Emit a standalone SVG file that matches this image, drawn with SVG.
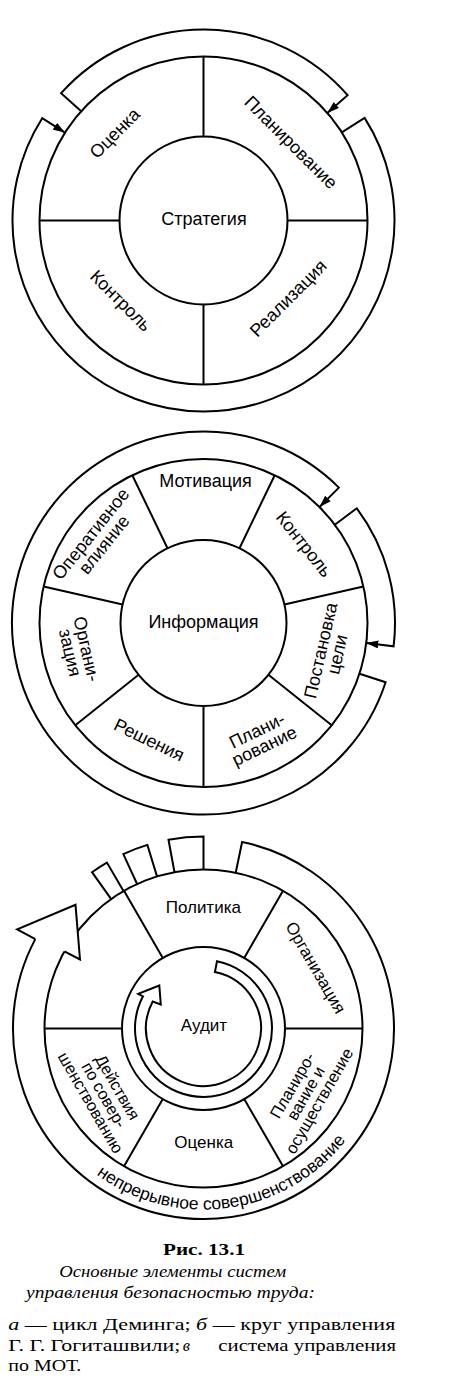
<svg xmlns="http://www.w3.org/2000/svg" width="454" height="1393" viewBox="0 0 454 1393">
<style>
.ln{fill:none;stroke:#000;stroke-width:2}
.wf{fill:#fff;stroke:#000;stroke-width:2;stroke-linejoin:miter}
.t{font-family:"Liberation Sans",Arial,sans-serif;font-size:18px;text-anchor:middle;fill:#000}
.s17{font-size:17px}
.s16{font-size:16.5px}
.cap{font-family:"Liberation Serif","Times New Roman",serif;font-size:16.5px;fill:#000}
.it{font-style:italic}
</style>
<defs>
<marker id="ah" markerUnits="userSpaceOnUse" markerWidth="12" markerHeight="8" refX="12" refY="4" orient="auto"><path d="M0,0 L12,4 L0,8 z" fill="#000"/></marker>
<path id="arcText" d="M46.7,1119 A181,181 0 0 0 360.3,1119" fill="none"/>
</defs>
<rect width="454" height="1393" fill="#fff"/>

<!-- ===== Diagram a ===== -->
<g id="diagram-a">
<g id="a-ring"><circle class="ln" cx="203.5" cy="220.5" r="164"/>
<path class="ln" d="M203.5,136.5 V56.5 M203.5,304.5 V384.5 M119.5,220.5 H39.5 M287.5,220.5 H367.5"/></g>
<g id="a-strategy"><circle class="ln" cx="203.5" cy="220.5" r="84"/><text class="t" x="204" y="225">Стратегия</text></g>
<g id="a-otsenka"><text class="t" transform="translate(114.8,133.3) rotate(-45)" y="6">Оценка</text></g>
<g id="a-planirovanie"><text class="t" transform="translate(290.8,142.5) rotate(45)" y="6">Планирование</text></g>
<g id="a-kontrol"><text class="t" transform="translate(120.8,300.8) rotate(45)" y="6">Контроль</text></g>
<g id="a-realizatsiya"><text class="t" transform="translate(288.3,298.3) rotate(-45)" y="6">Реализация</text></g>
<g id="a-connectors">
<path class="ln" d="M81.2,111.2 L61.1,93.2 A191,191 0 0 1 347.6,95.2 L327.3,112.9" marker-end="url(#ah)"/>
<path class="ln" d="M341.8,132.4 L364.6,117.9 A191,191 0 1 1 42.2,118.2 L65,132.6" marker-end="url(#ah)"/>
</g>
</g>

<!-- ===== Diagram b ===== -->
<g id="diagram-b">
<g id="b-ring"><circle class="ln" cx="203.5" cy="623" r="164"/>
<path class="ln" d="M203.5,706 V787 M138.6,674.8 L75.3,725.3 M122.6,604.5 L43.6,586.5 M167.5,548.2 L132.3,475.2 M239.5,548.2 L274.7,475.2 M284.4,604.5 L363.4,586.5 M268.4,674.8 L331.7,725.3"/></g>
<g id="b-informatsiya"><circle class="ln" cx="203.5" cy="623" r="83"/><text class="t" x="203.5" y="628">Информация</text></g>
<g id="b-motivatsiya"><text class="t" x="205.5" y="487.3">Мотивация</text></g>
<g id="b-kontrol"><text class="t" transform="translate(304,544.2) rotate(51.4)" y="6">Контроль</text></g>
<g id="b-postanovka"><text class="t" transform="translate(329,652.5) rotate(-77.1)"><tspan x="0" y="-2.5">Постановка</tspan><tspan x="0" y="14.5">цели</tspan></text></g>
<g id="b-planirovanie"><text class="t" transform="translate(260.8,738.3) rotate(-25.7)"><tspan x="0" y="-2.5">Плани-</tspan><tspan x="0" y="14.5">рование</tspan></text></g>
<g id="b-resheniya"><text class="t" transform="translate(149.2,740) rotate(25.7)" y="6">Решения</text></g>
<g id="b-organizatsiya"><text class="t" transform="translate(78.3,650.8) rotate(77.1)"><tspan x="0" y="-2.5">Органи-</tspan><tspan x="0" y="14.5">зация</tspan></text></g>
<g id="b-operativnoe"><text class="t" transform="translate(97.5,539.2) rotate(-51.4)"><tspan x="0" y="-2.5">Оперативное</tspan><tspan x="0" y="14.5">влияние</tspan></text></g>
<g id="b-connectors">
<path class="ln" d="M334.8,524.8 L356.8,508.3 A191.5,191.5 0 0 1 393.6,646.3 L366.3,643" marker-end="url(#ah)"/>
<path class="ln" d="M359.5,673.7 L385.6,682.2 A191.5,191.5 0 1 1 338.9,487.6 L319.5,507" marker-end="url(#ah)"/>
</g>
</g>

<!-- ===== Diagram c ===== -->
<g id="diagram-c">
<g id="c-ring"><circle class="ln" cx="203.5" cy="1028.5" r="159"/>
<path class="ln" d="M285,1028.5 H362.5 M122,1028.5 H44.5 M244.5,1099.5 L283,1166.2 M162.5,1099.5 L124,1166.2 M162.5,957.5 L124,890.8 M244.5,957.5 L283,890.8"/></g>
<g id="c-connectors">
<path class="ln" d="M235.7,872.8 L242.1,842 A190.5,190.5 0 1 1 35.3,939.1"/>
<path class="wf" d="M35.3,939.1 L17.2,929.4 L75.5,904.8 L80,959.5 L64.4,951.4"/>
<path class="ln" d="M111.2,899.1 L92,872.2 A192,192 0 0 1 106.9,862.6 L123.5,891.1"/>
<path class="ln" d="M137.1,884 L123.3,854.1 A192,192 0 0 1 147.4,844.9 L157,876.4"/>
<path class="ln" d="M174.5,872.2 L168.5,839.7 A192,192 0 0 1 203.5,836.5 L203.5,869.5"/>
<path class="wf" d="M152.7,1001.5 A57.5,57.5 0 1 0 214.9,972.1 L217,961.3 A68.5,68.5 0 1 1 143,996.3 L138.2,993.8 L159.3,985.5 L160.8,1004.5 Z"/>
</g>
<g id="c-audit"><circle class="ln" cx="203.5" cy="1028.5" r="81.5"/><text class="t s17" x="204" y="1031">Аудит</text></g>
<g id="c-politika"><text class="t s17" x="203.3" y="913.3">Политика</text></g>
<g id="c-organizatsiya"><text class="t s17" transform="translate(315.8,967.5) rotate(60)" y="6">Организация</text></g>
<g id="c-planirovanie"><text class="t s16" transform="translate(305.5,1093) rotate(-60)"><tspan x="0" y="-9.5">Планиро-</tspan><tspan x="0" y="6">вание и</tspan><tspan x="0" y="21.5">осуществление</tspan></text></g>
<g id="c-otsenka"><text class="t s17" x="203.8" y="1148.3">Оценка</text></g>
<g id="c-deystviya"><text class="t s16" transform="translate(104.3,1094.7) rotate(60)"><tspan x="0" y="-9.5">Действия</tspan><tspan x="0" y="6">по совер-</tspan><tspan x="0" y="21.5">шенствованию</tspan></text></g>
<g id="c-nepreryvnoe"><text class="t" style="font-size:17.5px"><textPath href="#arcText" startOffset="56.5%">непрерывное совершенствование</textPath></text></g>
</g>

<!-- ===== Caption ===== -->
<g id="caption">
<text class="cap" x="204" y="1255" text-anchor="middle" font-weight="bold" textLength="82" lengthAdjust="spacingAndGlyphs">Рис. 13.1</text>
<text class="cap it" x="59.3" y="1276.7" textLength="227" lengthAdjust="spacingAndGlyphs">Основные элементы систем</text>
<text class="cap it" x="26" y="1298.3" textLength="289" lengthAdjust="spacingAndGlyphs">управления безопасностью труда:</text>
<text class="cap" x="8.3" y="1330" textLength="387" lengthAdjust="spacingAndGlyphs"><tspan class="it">а</tspan> — цикл Деминга; <tspan class="it">б</tspan> — круг управления</text>
<text class="cap" x="8.3" y="1350.5" textLength="172" lengthAdjust="spacingAndGlyphs">Г. Г. Гогиташвили;</text>
<text class="cap it" x="182.7" y="1350.5">в</text>
<text class="cap" x="218.3" y="1350.5" textLength="177.7" lengthAdjust="spacingAndGlyphs">система управления</text>
<text class="cap" x="8.3" y="1370.5" textLength="73" lengthAdjust="spacingAndGlyphs">по МОТ.</text>
</g>
</svg>
